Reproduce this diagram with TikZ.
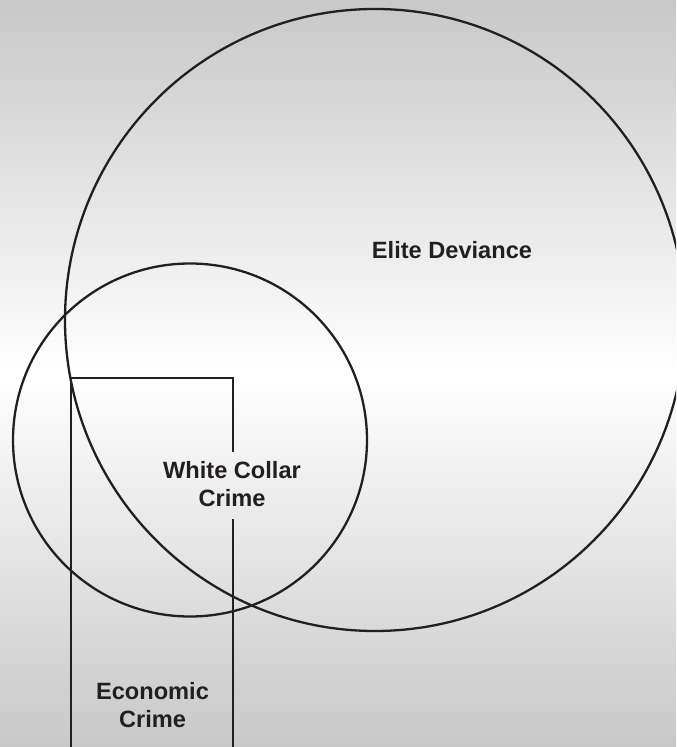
\documentclass[tikz,border=0pt]{standalone}
\usepackage{fontspec}
\setmainfont{Liberation Sans}
\usetikzlibrary{shapes.geometric}
\definecolor{bggray}{RGB}{200,200,200}
\definecolor{ink}{RGB}{35,31,32}
\begin{document}
\begin{tikzpicture}[x=0.5pt,y=-0.5pt,
  outline/.style={draw=ink,line width=1.15pt},
  lbl/.style={text=ink,font=\fontsize{11.8}{14}\selectfont\bfseries,align=center,inner sep=0pt}]
\useasboundingbox (0,0) rectangle (676,747);
\shade[top color=bggray,bottom color=bggray,middle color=white] (0,0) rectangle (676,747);
\clip (0,0) rectangle (676,747);
\node (elite) [ellipse,outline,minimum width=620pt*0.5,minimum height=622pt*0.5,inner sep=0pt] at (375,320) {};
\node (wcc) [ellipse,outline,minimum width=354pt*0.5,minimum height=353pt*0.5,inner sep=0pt] at (190,440) {};
\coordinate (ea) at (71,747);
\coordinate (eb) at (71,378);
\coordinate (ec) at (233,378);
\coordinate (ed) at (233,452);
\coordinate (ee) at (233,519);
\coordinate (ef) at (233,747);
\draw[outline] (ea) -- (eb) -- (ec) -- (ed);
\draw[outline] (ee) -- (ef);
\node (tElite) [lbl] at (452,250) {Elite Deviance};
\node (tWcc) [lbl] at (232,484) {White Collar\\Crime};
\node (tEco) [lbl] at (152.5,705) {Economic\\Crime};
\end{tikzpicture}
\end{document}
